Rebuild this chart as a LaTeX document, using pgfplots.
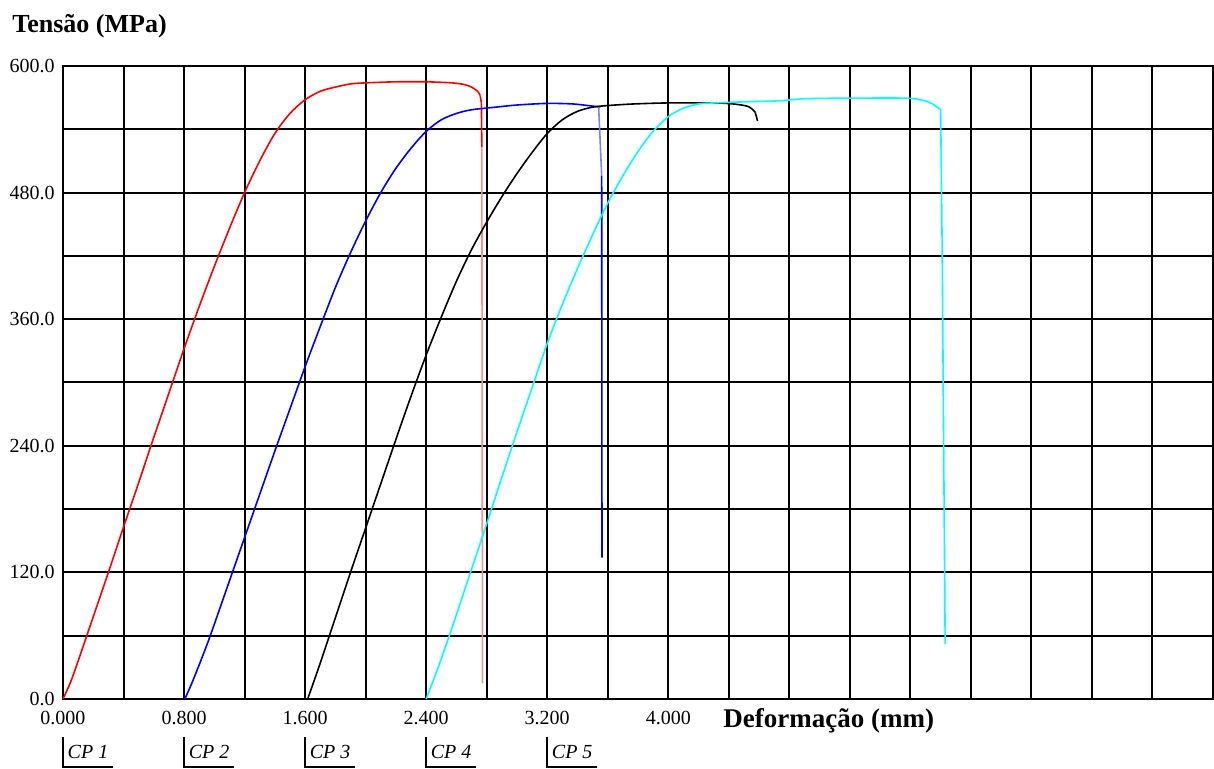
\documentclass[border=0pt]{standalone}
\usepackage{fontspec}
\setmainfont{Liberation Serif}
\usepackage{pgfplots}
\pgfplotsset{compat=1.18}
\definecolor{cpred}{rgb}{1,0,0}
\definecolor{cpblue}{rgb}{0,0,1}
\definecolor{cpcyan}{rgb}{0,1,1}
\begin{document}
\begin{tikzpicture}
\path[use as bounding box] (0pt,0pt) rectangle (607pt,384.5pt);
\begin{axis}[
  at={(31.5pt,35pt)}, anchor=south west,
  scale only axis, width=575pt, height=316.5pt,
  xmin=0, xmax=7.6, ymin=0, ymax=600,
  clip=false,
  xtick={0,0.4,0.8,1.2,1.6,2.0,2.4,2.8,3.2,3.6,4.0,4.4,4.8,5.2,5.6,6.0,6.4,6.8,7.2,7.6},
  xticklabels={{0.000},{},{0.800},{},{1.600},{},{2.400},{},{3.200},{},{4.000},{},{},{},{},{},{},{},{},{}},
  ytick={0,60,120,180,240,300,360,420,480,540,600},
  yticklabels={{0.0},{},{120.0},{},{240.0},{},{360.0},{},{480.0},{},{600.0}},
  grid=major,
  major grid style={black, line width=1pt},
  axis line style={black, line width=1pt},
  major tick length=0pt,
  tick style={draw=none},
  xticklabel style={font=\fontsize{10}{12}\selectfont, anchor=north, inner sep=0pt, yshift=-6pt},
  yticklabel style={font=\fontsize{10}{12}\selectfont, anchor=east, inner sep=0pt, xshift=-4pt},
  every axis plot/.append style={line width=0.8pt, mark=none},
]
% CP 1 (red)
\addplot[cpred, smooth] coordinates {
(0,0) (0.05,16) (0.1,36) (0.2,78) (0.3,120) (0.4,163) (0.5,205) (0.6,248) (0.7,290) (0.8,332) (0.9,372) (1.0,410) (1.1,446) (1.2,480) (1.3,510) (1.4,536) (1.5,555) (1.6,568) (1.7,576) (1.8,580) (1.9,583) (2.0,584) (2.2,585) (2.4,585) (2.57,584) (2.65,582.5) (2.70,580) (2.74,576) (2.757,572)
};
\addplot[cpred] coordinates {(2.757,572) (2.765,565) (2.768,523)};
\addplot[cpred!45] coordinates {(2.768,523) (2.770,300) (2.772,15)};
% CP 2 (blue)
\addplot[cpblue, smooth] coordinates {
(0.805,0) (0.86,18) (0.963,56) (1.1,112) (1.2,153) (1.3,194) (1.4,235) (1.5,275) (1.6,315) (1.7,353) (1.8,390) (1.9,423) (2.0,453) (2.1,480) (2.2,503) (2.3,522) (2.4,538) (2.5,549) (2.6,555) (2.7,558.5) (2.86,561) (3.0,563) (3.195,564.5) (3.37,564) (3.525,561.5) (3.54,561)
};
\addplot[cpblue!50] coordinates {(3.54,561) (3.56,496)};
\addplot[cpblue] coordinates {(3.56,496) (3.562,134)};
% CP 3 (black)
\addplot[black, smooth] coordinates {
(1.617,0) (1.7,34) (1.8,77) (1.9,120) (2.0,162) (2.1,204) (2.2,246) (2.3,287) (2.4,326) (2.5,362) (2.6,396) (2.7,426) (2.8,452) (2.9,476) (3.0,498) (3.1,518) (3.2,536) (3.3,549) (3.4,557) (3.5,561) (3.6,562.5) (3.77,564) (4.0,565) (4.3,565) (4.43,564) (4.53,561.5) (4.575,556)
};
\addplot[black] coordinates {(4.575,556) (4.59,548)};
% CP 4 (cyan)
\addplot[cpcyan, smooth] coordinates {
(2.4,0) (2.5,38) (2.6,80) (2.7,123) (2.8,166) (2.9,210) (3.0,253) (3.1,295) (3.2,337) (3.3,374) (3.4,408) (3.5,440) (3.6,470) (3.7,496) (3.8,519) (3.9,538) (4.0,552) (4.1,560) (4.2,564) (4.3,565) (4.5,566) (4.73,567) (4.91,569) (5.2,569.5) (5.57,569.5) (5.68,567.5) (5.74,564.5) (5.80,558.6)
};
\addplot[cpcyan] coordinates {(5.80,558.6) (5.81,430) (5.83,52)};
% CP labels with brackets
\foreach \xx/\lab in {0/1,0.8/2,1.6/3,2.4/4,3.2/5}{
  \edef\temp{\noexpand\draw[black, line width=0.8pt] ([yshift=-19pt]axis cs:\xx,0) -- ([yshift=-34pt]axis cs:\xx,0) -- ([yshift=-34pt,xshift=25pt]axis cs:\xx,0);
  \noexpand\node[font=\noexpand\itshape\noexpand\fontsize{10}{12}\noexpand\selectfont, inner sep=0pt] at ([xshift=12.5pt,yshift=-26.5pt]axis cs:\xx,0) {CP \lab};}
  \temp
}
\end{axis}
\node[anchor=base west, inner sep=0pt, font=\bfseries\fontsize{13}{15}\selectfont] at (6pt,368pt) {Tensão (MPa)};
\node[anchor=base west, inner sep=0pt, font=\bfseries\fontsize{13.5}{16}\selectfont] at (361.5pt,20.5pt) {Deformação (mm)};
\end{tikzpicture}
\end{document}
